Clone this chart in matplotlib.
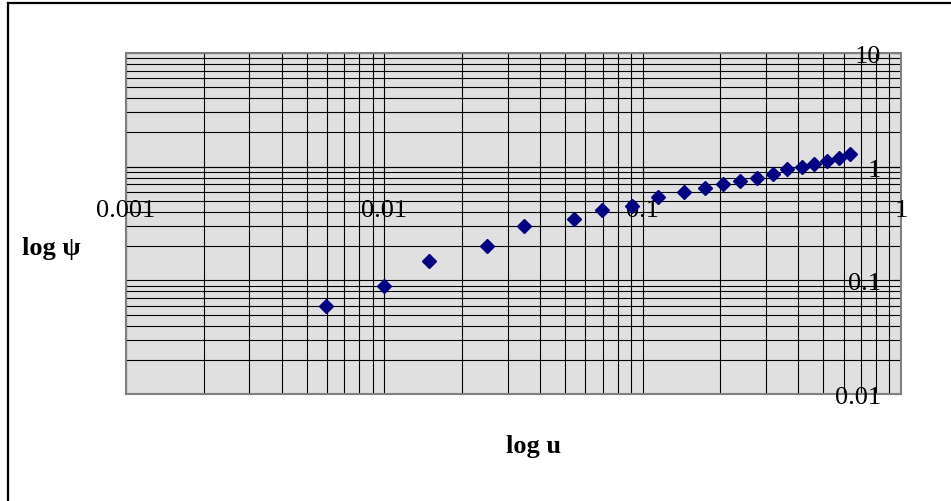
import matplotlib
matplotlib.use("Agg")
import matplotlib.pyplot as plt
from matplotlib.lines import Line2D
from matplotlib.patches import Rectangle
from matplotlib.ticker import LogLocator, NullFormatter

plt.rcParams['font.family'] = ['Liberation Serif', 'DejaVu Serif']

# data
u_values = [0.00595, 0.0100, 0.0149, 0.0250, 0.0348, 0.0544, 0.0695, 0.0907,
            0.115, 0.144, 0.174, 0.204, 0.239, 0.278, 0.319, 0.363, 0.413,
            0.461, 0.516, 0.573, 0.637]
psi_values = [0.0592, 0.0898, 0.149, 0.1995, 0.301, 0.347, 0.419, 0.451,
              0.545, 0.599, 0.646, 0.700, 0.753, 0.800, 0.857, 0.960, 1.00,
              1.05, 1.12, 1.20, 1.29]
x_ticks = [0.001, 0.01, 0.1, 1]
x_tick_labels = ["0.001", "0.01", "0.1", "1"]
y_ticks = [0.01, 0.1, 1, 10]
y_tick_labels = ["0.01", "0.1", "1", "10"]
x_label = "log u"
y_label = "log \u03c8"

W, H, DPI = 951, 501, 100
fig = plt.figure(figsize=(W / DPI, H / DPI), dpi=DPI)
fig.patch.set_facecolor("white")

L, R, T, B = 126, 901, 53, 394
ax = fig.add_axes([L / W, (H - B) / H, (R - L) / W, (B - T) / H])
ax.set_xscale("log")
ax.set_yscale("log")
ax.set_xlim(0.001, 1)
ax.set_ylim(0.01, 10)
ax.set_facecolor("#e0e0e0")

ax.xaxis.set_major_locator(LogLocator(base=10))
ax.xaxis.set_minor_locator(LogLocator(base=10, subs=range(2, 10)))
ax.yaxis.set_major_locator(LogLocator(base=10))
ax.yaxis.set_minor_locator(LogLocator(base=10, subs=range(2, 10)))
ax.xaxis.set_major_formatter(NullFormatter())
ax.xaxis.set_minor_formatter(NullFormatter())
ax.yaxis.set_major_formatter(NullFormatter())
ax.yaxis.set_minor_formatter(NullFormatter())

ax.grid(True, which="both", color="black", linewidth=0.8)
ax.set_axisbelow(True)

for s in ["top", "left"]:
    ax.spines[s].set_visible(False)
ax.spines["bottom"].set_position(("data", 1))
ax.spines["bottom"].set_color("black")
ax.spines["bottom"].set_linewidth(0.8)
ax.spines["right"].set_color("#808080")
ax.spines["right"].set_linewidth(1.2)
ax.add_patch(Rectangle((0, 0), 1, 1, transform=ax.transAxes, fill=False,
                       edgecolor="#808080", linewidth=1.5, clip_on=False, zorder=3))

ax.yaxis.tick_right()
ax.tick_params(axis="x", which="major", direction="out", length=5, width=0.8, color="black")
ax.tick_params(axis="y", which="major", direction="in", length=6, width=0.8, color="black")
ax.tick_params(which="minor", length=0)

ax.plot(u_values, psi_values, linestyle="none", marker="D", markersize=7.5,
        color="#000080", markeredgecolor="#000080", zorder=4, clip_on=False)

for v, lab in zip(x_ticks, x_tick_labels):
    ax.annotate(lab, xy=(v, 1), xycoords="data", xytext=(0, -50),
                textcoords="offset pixels", ha="center", va="baseline",
                fontsize=19, color="black", annotation_clip=False)
for v, lab in zip(y_ticks, y_tick_labels):
    ax.annotate(lab, xy=(1, v), xycoords="data", xytext=(-20, -10),
                textcoords="offset pixels", ha="right", va="baseline",
                fontsize=19, color="black", annotation_clip=False)

fig.text(534 / W, 1 - 453 / H, x_label, ha="center", va="baseline",
         fontsize=19, fontweight="bold")
fig.text(22 / W, 1 - 255 / H, y_label, ha="left", va="baseline",
         fontsize=19, fontweight="bold")

# outer frame
fig.add_artist(Line2D([8 / W, 1.0], [1 - 3 / H, 1 - 3 / H], transform=fig.transFigure,
                      color="black", linewidth=1.6))
fig.add_artist(Line2D([8 / W, 8 / W], [1 - 3 / H, 0], transform=fig.transFigure,
                      color="black", linewidth=1.6))

fig.savefig("out.png", dpi=DPI)
